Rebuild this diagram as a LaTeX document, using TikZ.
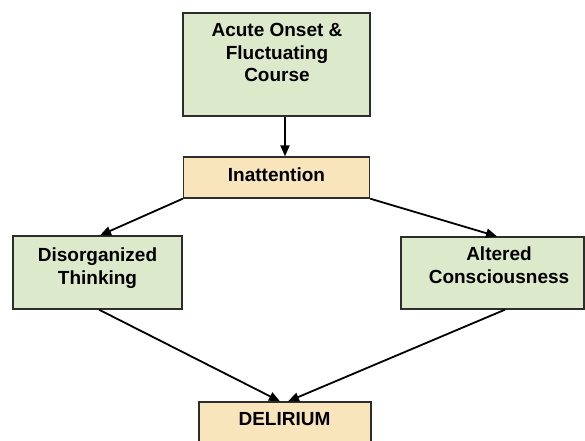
\documentclass[tikz,border=0pt]{standalone}
\usepackage{fontspec}
\setmainfont{Liberation Sans}
\usetikzlibrary{arrows.meta}
\definecolor{boxgreen}{RGB}{221,233,203}
\definecolor{boxtan}{RGB}{249,229,187}
\definecolor{boxline}{RGB}{45,45,45}
\begin{document}
\begin{tikzpicture}[x=1pt,y=-1pt,
  greenbox/.style={draw=boxline,line width=1.3pt,fill=boxgreen},
  tanbox/.style={draw=boxline,line width=1.3pt,fill=boxtan},
  lbl/.style={font=\fontsize{19}{22.5}\selectfont\bfseries,align=center,inner sep=0pt},
  flow/.style={line width=1.8pt,-{Triangle[length=11pt,width=9pt]}}]
  \useasboundingbox (0,0) rectangle (585,440);
  % boxes
  \node[greenbox,minimum width=187pt,minimum height=103pt] (onset) at (276.5,64.5) {};
  \node[tanbox,minimum width=186pt,minimum height=41pt] (inatt) at (276.5,177.5) {};
  \node[greenbox,minimum width=169pt,minimum height=73pt] (disorg) at (97.5,272.5) {};
  \node[greenbox,minimum width=183pt,minimum height=72pt] (altered) at (492.5,273) {};
  \node[tanbox,minimum width=172pt,minimum height=42pt] (delir) at (285,423) {};
  % texts
  \node[lbl] (onset-t) at (277,52.5) {Acute Onset \&\\Fluctuating\\Course};
  \node[lbl] (inatt-t) at (276.5,175) {Inattention};
  \node[lbl] (disorg-t) at (97.5,268) {Disorganized\\Thinking};
  \node[lbl] (altered-t) at (499,265.3) {Altered\\Consciousness};
  \node[lbl] (delir-t) at (284.5,419.5) {DELIRIUM};
  % arrows
  \draw[flow] ([xshift=8.5pt]onset.south) -- ([xshift=8.5pt]inatt.north);
  \draw[flow] (inatt.south west) -- ([xshift=2.5pt]disorg.north);
  \draw[flow] (inatt.south east) -- ([xshift=4.5pt]altered.north);
  \draw[flow] ([xshift=1.5pt]disorg.south) -- ([xshift=-5pt]delir.north);
  \draw[flow] ([xshift=12.5pt]altered.south) -- ([xshift=3pt]delir.north);
\end{tikzpicture}
\end{document}
